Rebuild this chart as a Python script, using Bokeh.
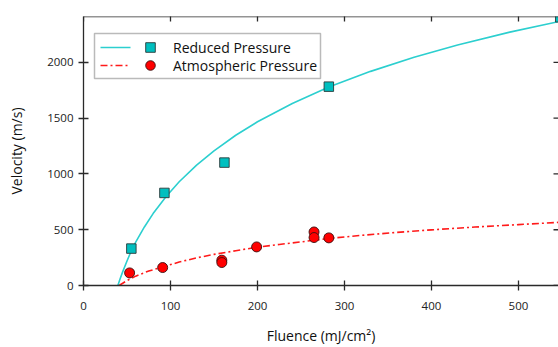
import math
from bokeh.plotting import figure
from bokeh.models import (Range1d, Legend, LegendItem, FixedTicker, Span,
                          BoxAnnotation, Arrow)
from bokeh.embed import file_html
from bokeh.resources import INLINE

# ---- data ----
reduced_fluence = [55, 93, 162, 282, 548]
reduced_velocity = [331, 830, 1102, 1783, 2405]

atm_fluence = [53, 91, 159, 159, 199, 265, 265, 282]
atm_velocity = [113, 161, 227, 206, 346, 480, 430, 427]

# fitted curves, points
reduced_fit_fluence = [39.5, 42, 45, 50, 55, 60, 70, 80, 95, 110, 130, 150, 175,
                       200, 240, 282, 330, 380, 430, 490, 546]
reduced_fit_velocity = [0, 58, 122, 220, 312, 388, 525, 645, 798, 930, 1080, 1208,
                        1347, 1468, 1632, 1779, 1920, 2046, 2157, 2272, 2366]

atm_fit_fluence = [41, 50, 60, 75, 90, 110, 130, 150, 175, 200, 225, 250, 282,
                   320, 360, 400, 450, 500, 546]
atm_fit_velocity = [0, 44, 84, 130, 164, 210, 248, 279, 312, 344, 368, 391, 422,
                    450, 476, 499, 524, 546, 566]

x_ticks = [0, 100, 200, 300, 400, 500]
y_ticks = [0, 500, 1000, 1500, 2000]
x_end = 546
y_end = 2412

FONT = "Open Sans"
AX = "#2a2a2a"
CYAN_LINE = "#2ccfcf"
CYAN_FILL = "#00bfbf"
RED = "#ff1a1a"
RED_DASH = "7 3 2 3"

p = figure(width=558, height=347, output_backend="svg", toolbar_location=None,
           x_range=Range1d(0, x_end), y_range=Range1d(0, y_end),
           min_border_left=83, min_border_right=0, min_border_top=16,
           min_border_bottom=62, background_fill_color="white",
           border_fill_color="white", outline_line_color=None)
p.xgrid.visible = False
p.ygrid.visible = False

cyan_line = p.line(reduced_fit_fluence, reduced_fit_velocity, line_color=CYAN_LINE,
                   line_width=1.6)
red_line = p.line(atm_fit_fluence, atm_fit_velocity, line_color=RED, line_width=1.6,
                  line_dash=RED_DASH)
sq = p.scatter(reduced_fluence, reduced_velocity, marker="square", size=9.5,
               fill_color=CYAN_FILL, line_color="#2a3a3a", line_width=0.9)
circ = p.scatter(atm_fluence, atm_velocity, marker="circle", size=10,
                 fill_color="#ff0000", line_color="#3a1010", line_width=0.9)

xa = p.xaxis[0]
ya = p.yaxis[0]
xa.ticker = FixedTicker(ticks=x_ticks)
ya.ticker = FixedTicker(ticks=y_ticks)
for ax in (xa, ya):
    ax.minor_tick_line_color = None
    ax.major_tick_in = 5
    ax.major_tick_out = 5
    ax.axis_line_color = AX
    ax.axis_line_width = 1.3
    ax.major_tick_line_color = AX
    ax.major_tick_line_width = 1.3
    ax.major_label_text_font = FONT
    ax.major_label_text_font_size = "11.5px"
    ax.major_label_text_color = "#222222"
    ax.axis_label_text_font = FONT
    ax.axis_label_text_font_size = "14px"
    ax.axis_label_text_font_style = "normal"
    ax.axis_label_text_color = "#111111"
xa.axis_label = "Fluence (mJ/cm²)"
ya.axis_label = "Velocity (m/s)"
xa.major_label_standoff = 11
xa.axis_label_standoff = 13
ya.major_label_standoff = 5
ya.axis_label_standoff = 18

# top frame line and tick marks on top / right edges
p.add_layout(Span(location=y_end, dimension="width", line_color=AX, line_width=1.3))
p.scatter(x_ticks, [y_end] * len(x_ticks), marker="dash", size=10,
          angle=math.pi / 2, line_color=AX, line_width=1.3)
p.scatter([x_end] * len(y_ticks), y_ticks, marker="dash", size=10,
          line_color=AX, line_width=1.3)

# legend frame
p.add_layout(BoxAnnotation(left=94, right=320, top=33, bottom=78,
                           left_units="canvas", right_units="canvas",
                           top_units="canvas", bottom_units="canvas",
                           fill_color="white", fill_alpha=1.0,
                           line_color="#1a1a1a", line_width=1.5, level="annotation"))
# legend line samples
p.add_layout(Arrow(end=None, x_start=100, x_end=130, y_start=47, y_end=47,
                   start_units="canvas", end_units="canvas",
                   line_color=CYAN_LINE, line_width=1.6))
p.add_layout(Arrow(end=None, x_start=100, x_end=130, y_start=65, y_end=65,
                   start_units="canvas", end_units="canvas",
                   line_color=RED, line_width=1.6, line_dash=RED_DASH))

for rend, label, loc in ((sq, "Reduced Pressure", (55, 226)),
                         (circ, "Atmospheric Pressure", (55, 208))):
    lg = Legend(items=[LegendItem(label=label, renderers=[rend])], location=loc,
                padding=0, spacing=0, glyph_width=24, glyph_height=24,
                label_height=17, label_standoff=11,
                label_text_font=FONT, label_text_font_size="14px",
                label_text_color="#111111", border_line_color=None,
                background_fill_alpha=0.0, margin=0)
    p.add_layout(lg, "center")

open("out.html", "w").write(file_html(p, INLINE))
